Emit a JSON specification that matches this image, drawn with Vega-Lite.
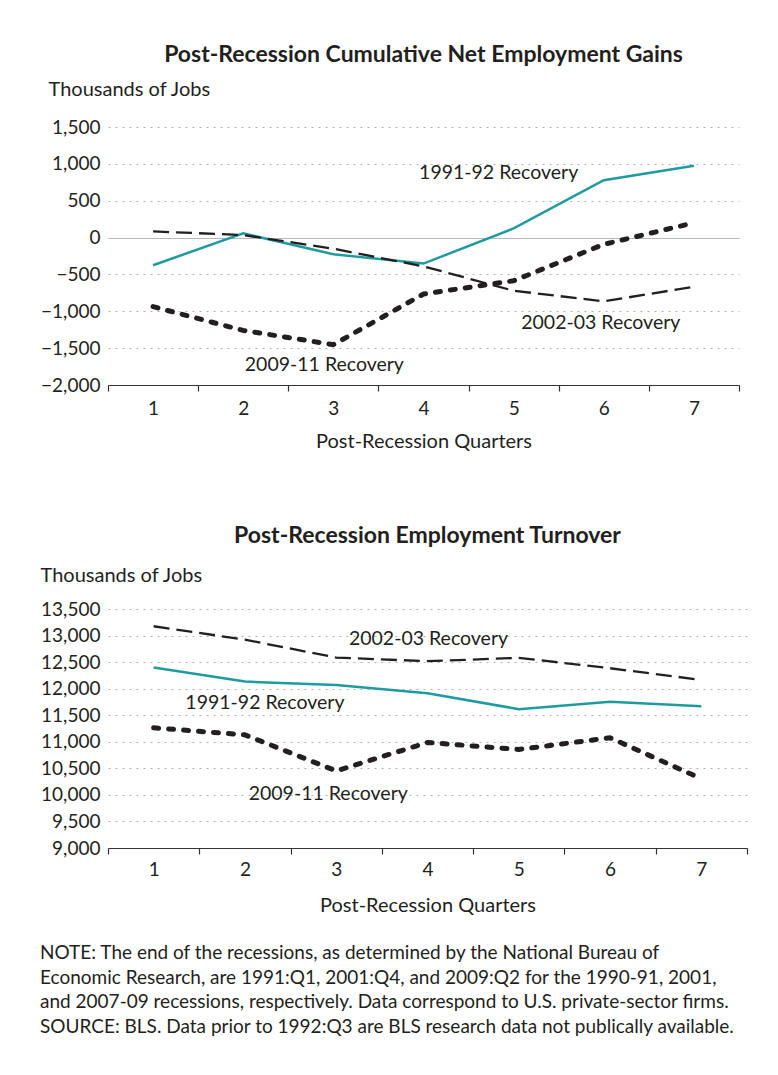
{
  "$schema": "https://vega.github.io/schema/vega-lite/v6.json",
  "padding": {"left": 40, "top": 44, "right": 30, "bottom": 40},
  "background": "white",
  "spacing": 74,
  "config": {
    "font": "Lato",
    "view": {"stroke": null},
    "axis": {"labelFont": "Lato", "labelFontSize": 19, "labelColor": "#231f20", "titleFont": "Lato", "titleFontSize": 20, "titleFontWeight": "normal", "titleColor": "#231f20"},
    "title": {"font": "Lato", "fontSize": 23, "fontWeight": "bold", "color": "#231f20"},
    "text": {"font": "Lato", "fontSize": 19.5, "color": "#231f20"}
  },
  "datasets": {
    "gains": [
      {"series": "1991-92 Recovery", "quarter": 1, "value": -375},
      {"series": "1991-92 Recovery", "quarter": 2, "value": 57},
      {"series": "1991-92 Recovery", "quarter": 3, "value": -227},
      {"series": "1991-92 Recovery", "quarter": 4, "value": -353},
      {"series": "1991-92 Recovery", "quarter": 5, "value": 124},
      {"series": "1991-92 Recovery", "quarter": 6, "value": 779},
      {"series": "1991-92 Recovery", "quarter": 7, "value": 973},
      {"series": "2002-03 Recovery", "quarter": 1, "value": 84},
      {"series": "2002-03 Recovery", "quarter": 2, "value": 34},
      {"series": "2002-03 Recovery", "quarter": 3, "value": -151},
      {"series": "2002-03 Recovery", "quarter": 4, "value": -390},
      {"series": "2002-03 Recovery", "quarter": 5, "value": -721},
      {"series": "2002-03 Recovery", "quarter": 6, "value": -865},
      {"series": "2002-03 Recovery", "quarter": 7, "value": -667},
      {"series": "2009-11 Recovery", "quarter": 1, "value": -937},
      {"series": "2009-11 Recovery", "quarter": 2, "value": -1260},
      {"series": "2009-11 Recovery", "quarter": 3, "value": -1453},
      {"series": "2009-11 Recovery", "quarter": 4, "value": -766},
      {"series": "2009-11 Recovery", "quarter": 5, "value": -586},
      {"series": "2009-11 Recovery", "quarter": 6, "value": -92},
      {"series": "2009-11 Recovery", "quarter": 7, "value": 200}
    ],
    "turnover": [
      {"series": "1991-92 Recovery", "quarter": 1, "value": 12397},
      {"series": "1991-92 Recovery", "quarter": 2, "value": 12133},
      {"series": "1991-92 Recovery", "quarter": 3, "value": 12070},
      {"series": "1991-92 Recovery", "quarter": 4, "value": 11915},
      {"series": "1991-92 Recovery", "quarter": 5, "value": 11614},
      {"series": "1991-92 Recovery", "quarter": 6, "value": 11752},
      {"series": "1991-92 Recovery", "quarter": 7, "value": 11671},
      {"series": "2002-03 Recovery", "quarter": 1, "value": 13175},
      {"series": "2002-03 Recovery", "quarter": 2, "value": 12923},
      {"series": "2002-03 Recovery", "quarter": 3, "value": 12585},
      {"series": "2002-03 Recovery", "quarter": 4, "value": 12517},
      {"series": "2002-03 Recovery", "quarter": 5, "value": 12580},
      {"series": "2002-03 Recovery", "quarter": 6, "value": 12385},
      {"series": "2002-03 Recovery", "quarter": 7, "value": 12165},
      {"series": "2009-11 Recovery", "quarter": 1, "value": 11263},
      {"series": "2009-11 Recovery", "quarter": 2, "value": 11131},
      {"series": "2009-11 Recovery", "quarter": 3, "value": 10451},
      {"series": "2009-11 Recovery", "quarter": 4, "value": 10987},
      {"series": "2009-11 Recovery", "quarter": 5, "value": 10855},
      {"series": "2009-11 Recovery", "quarter": 6, "value": 11075},
      {"series": "2009-11 Recovery", "quarter": 7, "value": 10304}
    ]
  },
  "title": {
    "text": [
      "NOTE: The end of the recessions, as determined by the National Bureau of",
      "Economic Research, are 1991:Q1, 2001:Q4, and 2009:Q2 for the 1990-91, 2001,",
      "and 2007-09 recessions, respectively. Data correspond to U.S. private-sector firms.",
      "SOURCE: BLS. Data prior to 1992:Q3 are BLS research data not publically available."
    ],
    "orient": "bottom",
    "anchor": "start",
    "fontSize": 19,
    "fontWeight": "normal",
    "lineHeight": 24.7,
    "offset": 29
  },
  "vconcat": [
    {
      "width": 631,
      "height": 258,
      "title": {"text": "Post-Recession Cumulative Net Employment Gains", "anchor": "middle", "frame": "group", "offset": 12},
      "encoding": {
        "x": {
          "field": "quarter", "type": "ordinal", "bandPosition": 0.5,
          "scale": {"type": "band", "paddingInner": 0, "paddingOuter": 0},
          "axis": {"title": "Post-Recession Quarters", "labelAngle": 0, "tickBand": "extent", "tickSize": 6, "tickColor": "#333333", "domainColor": "#333333", "domainWidth": 1.2, "tickWidth": 1.2, "labelPadding": 8, "titlePadding": 13, "grid": false}
        },
        "y": {
          "field": "value", "type": "quantitative",
          "scale": {"domain": [-2000, 1500], "nice": false, "zero": false},
          "axis": {
            "title": "Thousands of Jobs", "titleAngle": 0, "titleAlign": "left", "titleBaseline": "middle", "titleX": -60, "titleY": -38,
            "values": [-2000, -1500, -1000, -500, 0, 500, 1000, 1500], "format": ",.0f",
            "domain": false, "ticks": false, "labelPadding": 8, "grid": true,
            "gridColor": {"condition": {"test": "datum.value === 0", "value": "#b8b8b8"}, "value": "#b0b0b0"},
            "gridDash": {"condition": {"test": "datum.value === 0", "value": []}, "value": [2, 5]},
            "gridWidth": 1
          }
        }
      },
      "layer": [
        {"data": {"name": "gains"}, "transform": [{"filter": "datum.series === '1991-92 Recovery'"}], "mark": {"type": "line", "color": "#1f9aa0", "strokeWidth": 2.5}},
        {"data": {"name": "gains"}, "transform": [{"filter": "datum.series === '2002-03 Recovery'"}], "mark": {"type": "line", "color": "#231f20", "strokeWidth": 2.3, "strokeDash": [16, 7]}},
        {"data": {"name": "gains"}, "transform": [{"filter": "datum.series === '2009-11 Recovery'"}], "mark": {"type": "line", "color": "#231f20", "strokeWidth": 5, "strokeDash": [5, 10], "strokeCap": "round", "strokeJoin": "round"}},
        {"data": {"values": [{"quarter": 5, "value": 873, "label": "1991-92 Recovery"}]}, "mark": {"type": "text", "dx": -15, "baseline": "middle"}, "encoding": {"text": {"field": "label"}}},
        {"data": {"values": [{"quarter": 6, "value": -1153, "label": "2002-03 Recovery"}]}, "mark": {"type": "text", "dx": -3, "baseline": "middle"}, "encoding": {"text": {"field": "label"}}},
        {"data": {"values": [{"quarter": 3, "value": -1732, "label": "2009-11 Recovery"}]}, "mark": {"type": "text", "dx": -9, "baseline": "middle"}, "encoding": {"text": {"field": "label"}}}
      ]
    },
    {
      "width": 639,
      "height": 239,
      "title": {"text": "Post-Recession Employment Turnover", "anchor": "middle", "frame": "group", "offset": 17},
      "encoding": {
        "x": {
          "field": "quarter", "type": "ordinal", "bandPosition": 0.5,
          "scale": {"type": "band", "paddingInner": 0, "paddingOuter": 0},
          "axis": {"title": "Post-Recession Quarters", "labelAngle": 0, "tickBand": "extent", "tickSize": 6, "tickColor": "#333333", "domainColor": "#333333", "domainWidth": 1.2, "tickWidth": 1.2, "labelPadding": 6, "titlePadding": 16, "grid": false}
        },
        "y": {
          "field": "value", "type": "quantitative",
          "scale": {"domain": [9000, 13500], "nice": false, "zero": false},
          "axis": {
            "title": "Thousands of Jobs", "titleAngle": 0, "titleAlign": "left", "titleBaseline": "middle", "titleX": -68, "titleY": -34,
            "values": [9000, 9500, 10000, 10500, 11000, 11500, 12000, 12500, 13000, 13500], "format": ",.0f",
            "domain": false, "ticks": false, "labelPadding": 8, "grid": true,
            "gridColor": "#b0b0b0", "gridDash": [2, 5], "gridWidth": 1
          }
        }
      },
      "layer": [
        {"data": {"name": "turnover"}, "transform": [{"filter": "datum.series === '1991-92 Recovery'"}], "mark": {"type": "line", "color": "#1f9aa0", "strokeWidth": 2.5}},
        {"data": {"name": "turnover"}, "transform": [{"filter": "datum.series === '2002-03 Recovery'"}], "mark": {"type": "line", "color": "#231f20", "strokeWidth": 2.3, "strokeDash": [16, 7]}},
        {"data": {"name": "turnover"}, "transform": [{"filter": "datum.series === '2009-11 Recovery'"}], "mark": {"type": "line", "color": "#231f20", "strokeWidth": 5, "strokeDash": [5, 10], "strokeCap": "round", "strokeJoin": "round"}},
        {"data": {"values": [{"quarter": 4, "value": 12927, "label": "2002-03 Recovery"}]}, "mark": {"type": "text", "dx": 1, "baseline": "middle"}, "encoding": {"text": {"field": "label"}}},
        {"data": {"values": [{"quarter": 2, "value": 11733, "label": "1991-92 Recovery"}]}, "mark": {"type": "text", "dx": 20, "baseline": "middle"}, "encoding": {"text": {"field": "label"}}},
        {"data": {"values": [{"quarter": 3, "value": 10013, "label": "2009-11 Recovery"}]}, "mark": {"type": "text", "dx": -8, "baseline": "middle"}, "encoding": {"text": {"field": "label"}}}
      ]
    }
  ]
}
